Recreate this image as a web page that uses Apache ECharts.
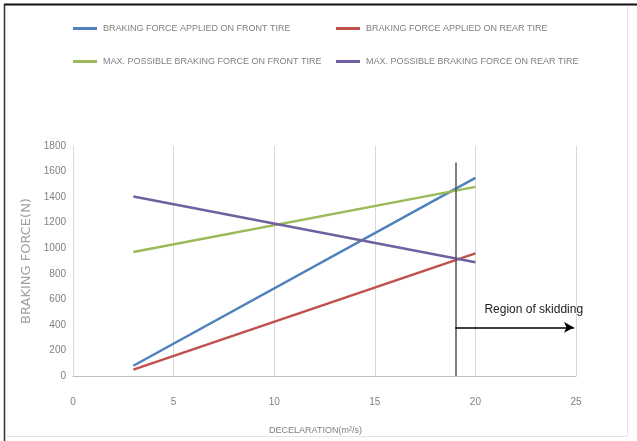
<!DOCTYPE html>
<html>
<head>
<meta charset="utf-8">
<script src="https://cdn.jsdelivr.net/npm/echarts@6/dist/echarts.min.js"></script>
<style>
html,body{margin:0;padding:0;background:#fff;}
#c{width:637px;height:441px;}
</style>
</head>
<body>
<div id="c"></div>
<script>
// ---- data ----
const seriesNames = [
  'BRAKING FORCE APPLIED ON FRONT TIRE',
  'BRAKING FORCE APPLIED ON REAR TIRE',
  'MAX. POSSIBLE BRAKING FORCE ON FRONT TIRE',
  'MAX. POSSIBLE BRAKING FORCE ON REAR TIRE'
];
const appliedFront = [[3, 80], [20, 1550]];
const appliedRear  = [[3, 50], [20, 960]];
const maxFront     = [[3, 970], [20, 1480]];
const maxRear      = [[3, 1405], [20, 890]];
const skidLimitX = 19;
const skidLineTop = 1670;
const arrowY = 380;
const arrowEndX = 24.9;
const skidLabel = 'Region of skidding';
const skidLabelPos = [22.9, 520];
const yTicks = [0, 200, 400, 600, 800, 1000, 1200, 1400, 1600, 1800];
const xTicks = [0, 5, 10, 15, 20, 25];

const colors = ['#4f81bd', '#c0504d', '#9bbb59', '#7060a0'];
const sans = '"Liberation Sans", Arial, sans-serif';

const chart = echarts.init(document.getElementById('c'));
const mk = (name, data, color) => ({
  name, type: 'line', data, showSymbol: false, symbol: 'none',
  lineStyle: { color, width: 2.5 }, itemStyle: { color }, z: 3
});
const legendCommon = {
  orient: 'vertical', top: 24, itemGap: 24, padding: 0,
  icon: 'rect', itemWidth: 24, itemHeight: 3,
  textStyle: { fontFamily: sans, fontSize: 9, color: '#808080', padding: [0, 0, 0, 1] }
};
chart.setOption({
  animation: false,
  graphic: [
    { type: 'line', shape: { x1: 4, y1: 4.5, x2: 637, y2: 4.5 }, style: { stroke: '#111', lineWidth: 2 } },
    { type: 'line', shape: { x1: 4.5, y1: 4, x2: 4.5, y2: 441 }, style: { stroke: '#333', lineWidth: 1.5 } },
    { type: 'line', shape: { x1: 627.5, y1: 6, x2: 627.5, y2: 436 }, style: { stroke: '#e4e4e4', lineWidth: 1 } },
    { type: 'line', shape: { x1: 6, y1: 436.5, x2: 627, y2: 436.5 }, style: { stroke: '#e4e4e4', lineWidth: 1 } }
  ],
  legend: [
    Object.assign({ data: [seriesNames[0], seriesNames[2]], left: 73 }, legendCommon),
    Object.assign({ data: [seriesNames[1], seriesNames[3]], left: 336 }, legendCommon)
  ],
  grid: { left: 73, right: 61, top: 146, bottom: 65, containLabel: false },
  xAxis: {
    type: 'value', min: xTicks[0], max: xTicks[xTicks.length - 1], interval: 5,
    name: 'DECELARATION(m\u00b2/s)', nameLocation: 'middle', nameGap: 50,
    nameTextStyle: { fontFamily: sans, fontSize: 9, color: '#808080', padding: [0, 18, 0, 0] },
    axisLine: { lineStyle: { color: '#bfbfbf', width: 1 } },
    axisTick: { show: false },
    axisLabel: { fontFamily: sans, fontSize: 10, color: '#808080', margin: 21 },
    splitLine: { show: true, lineStyle: { color: '#d9d9d9', width: 1 } }
  },
  yAxis: {
    type: 'value', min: yTicks[0], max: yTicks[yTicks.length - 1], interval: 200,
    name: 'BRAKING FORCE(N)', nameLocation: 'middle', nameGap: 8, nameRotate: 90,
    nameTextStyle: { fontFamily: '"DejaVu Sans", sans-serif', fontSize: 13, color: '#a0a0a0' },
    axisLine: { show: true, lineStyle: { color: '#d9d9d9', width: 1 } },
    axisTick: { show: false },
    axisLabel: { fontFamily: sans, fontSize: 10, color: '#808080', margin: 7, formatter: v => String(v) },
    splitLine: { show: false }
  },
  series: [
    mk(seriesNames[0], appliedFront, colors[0]),
    mk(seriesNames[1], appliedRear, colors[1]),
    mk(seriesNames[2], maxFront, colors[2]),
    mk(seriesNames[3], maxRear, colors[3]),
    {
      name: 'annotation', type: 'line', data: [], silent: true, z: 4,
      markLine: {
        silent: true, animation: false, label: { show: false },
        data: [
          [{ coord: [skidLimitX, 0], symbol: 'none', lineStyle: { color: '#555', width: 1.5, type: 'solid' } },
           { coord: [skidLimitX, skidLineTop], symbol: 'none' }],
          [{ coord: [skidLimitX, arrowY], symbol: 'none', lineStyle: { color: '#000', width: 1.5, type: 'solid' } },
           { coord: [arrowEndX, arrowY], symbol: 'arrow', symbolSize: [8, 10] }]
        ]
      },
      markPoint: {
        silent: true, symbol: 'circle', symbolSize: 0,
        data: [{ coord: skidLabelPos, value: skidLabel }],
        label: {
          show: true, formatter: skidLabel, position: 'inside',
          fontFamily: sans, fontSize: 12, color: '#222'
        }
      }
    }
  ]
});
</script>
</body>
</html>
